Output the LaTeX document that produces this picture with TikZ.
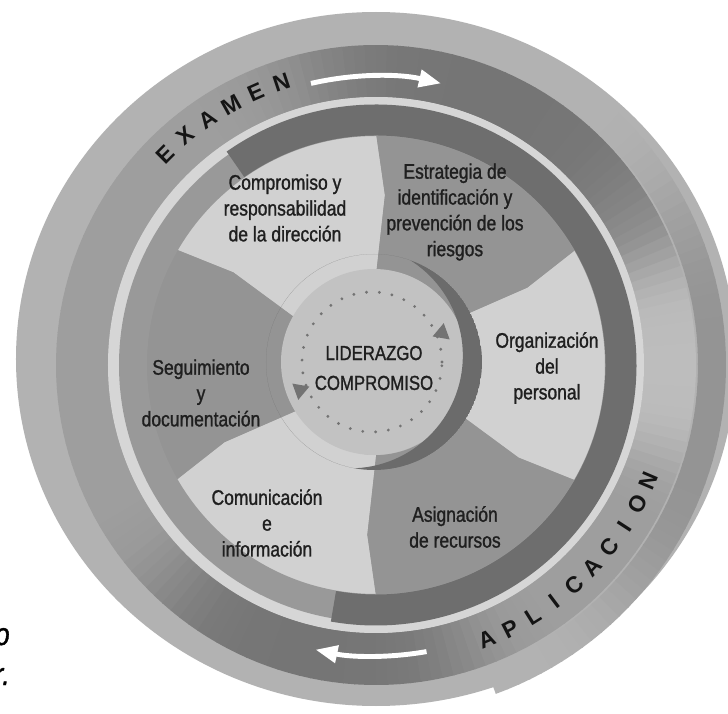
\documentclass[tikz,border=0pt]{standalone}
\usepackage{fontspec}
\setmainfont{Liberation Sans}[FakeStretch=0.83, FakeBold=1.2]
\newfontfamily\ringfont{Liberation Sans}
\usetikzlibrary{arrows.meta,shapes.geometric}

\definecolor{diskgray}{gray}{0.70}
\definecolor{thinlight}{gray}{0.84}
\definecolor{lightsec}{gray}{0.82}
\definecolor{darksec}{gray}{0.58}
\definecolor{hubgray}{gray}{0.76}
\definecolor{crescent}{gray}{0.42}
\definecolor{dotgray}{gray}{0.45}
\definecolor{textgray}{gray}{0.12}

\tikzset{
  sectortext/.style={align=center, text=textgray, inner sep=0pt, font=\fontsize{12}{14.7}\selectfont},
  hubtext/.style={align=center, text=textgray, inner sep=0pt, font=\fontsize{11.5}{17}\selectfont},
  ringletter/.style={text=black!92, inner sep=0pt, font=\ringfont\bfseries\fontsize{13}{13}\selectfont},
  fragtext/.style={text=black, inner sep=0pt, font=\fontsize{18}{18}\selectfont\itshape},
  whitearrow/.style={white, line width=2.8pt, -{Triangle[length=0.44cm, width=0.34cm]}},
  hubmark/.style={isosceles triangle, isosceles triangle apex angle=60, fill=dotgray, inner sep=0pt, minimum size=0.3cm}
}

\begin{document}
\begin{tikzpicture}[x=0.02cm, y=0.02cm]
    \fill[white] (-376,-349) rectangle (352,365);
    \useasboundingbox (-376,-349) rectangle (352,365);

    % outer disk and rings
    \fill[diskgray] (0,6) ellipse [x radius=360, y radius=347];
    \foreach \t in {-70,-68,...,50} {
      \pgfmathsetmacro\g{30+12*exp(-((\t+8)/38)^4)}
      \draw[black!\g, line width=0.56cm] (\t:336) arc[start angle=\t, end angle=\t+2.3, radius=336];
    }
    \foreach \t in {-180,-178,...,178} {
      \pgfmathsetmacro\g{38+16*exp(-((\t-65)/40)^4)+16*exp(-((\t+104)/33)^4)-12*exp(-(\t/20)^4)}
      \draw[black!\g, line width=1.04cm] (\t:294) arc[start angle=\t, end angle=\t+2.3, radius=294];
    }
    \draw[thinlight, line width=0.26cm] (0,0) circle[radius=261.5];

    % six sectors
    \foreach \a/\col in {150/lightsec, 90/darksec, 30/lightsec, -30/darksec, -90/lightsec, -150/darksec}
      \fill[\col] (\a:90) -- ({\a-3}:170) -- (\a:232) arc[start angle=\a, end angle=\a-60, radius=232]
        -- ({\a-63}:170) -- ({\a-60}:90) arc[start angle=\a-60, end angle=\a, radius=90] -- cycle;

    \draw[black!40, line width=0.56cm] (0,0) circle[radius=243];
    \draw[black!57, line width=0.62cm] (125:245) arc[start angle=125, end angle=-100, radius=245];

    % hub
    \fill[hubgray] (-2,3) circle[radius=93];
    \begin{scope}
      \clip (-2,3) circle[radius=108];
      \fill[crescent, even odd rule] (-2,3) circle[radius=108] (-25.9,9.4) circle[radius=112.75];
    \end{scope}
    \draw[dotgray, line width=1.8pt, line cap=round, dash pattern=on 0pt off 7.3pt] (-4,3) circle[radius=70];
    \node[hubmark, rotate=200] (markne) at (66,32) {};
    \node[hubmark, rotate=20] (marksw) at (-76,-25) {};

    \node[hubtext] (liderazgo) at (-2,-3) {LIDERAZGO\\COMPROMISO};
    \node[sectortext] (compromiso) at (-91,157) {Compromiso y\\responsabilidad\\de la dirección};
    \node[sectortext] (estrategia) at (79,153) {Estrategia de\\identificación y\\prevención de los\\riesgos};
    \node[sectortext] (organizacion) at (171,-3) {Organización\\del\\personal};
    \node[sectortext] (asignacion) at (79,-162) {Asignación\\de recursos};
    \node[sectortext] (comunicacion) at (-109,-158) {Comunicación\\e\\información};
    \node[sectortext] (seguimiento) at (-175,-28) {Seguimiento\\y\\documentación};

    % words and arrows on the outer band
    \foreach \ch [count=\i, evaluate=\i as \ang using 140.3-5.3*\i, evaluate=\i as \rot using 50.3-5.3*\i] in {E,X,A,M,E,N}
      \node[ringletter, rotate=\rot] (examen\i) at (\ang:298) {\ch};
    \foreach \ch [count=\i, evaluate=\i as \ang using -73+5*\i, evaluate=\i as \rot using 17+5*\i] in {A,P,L,I,C,A,C,I,O,N}
      \node[ringletter, rotate=\rot] (aplicacion\i) at (\ang:296) {\ch};
    \draw[whitearrow] (103:289) arc[start angle=103, end angle=77, radius=289];
    \draw[whitearrow] (-80:291) arc[start angle=-80, end angle=-102, radius=291];

    \node[fragtext, anchor=base east] (fragtop) at (-366,-280) {o};
    \node[fragtext, anchor=base east] (fragbottom) at (-366,-320) {r.};
\end{tikzpicture}
\end{document}
